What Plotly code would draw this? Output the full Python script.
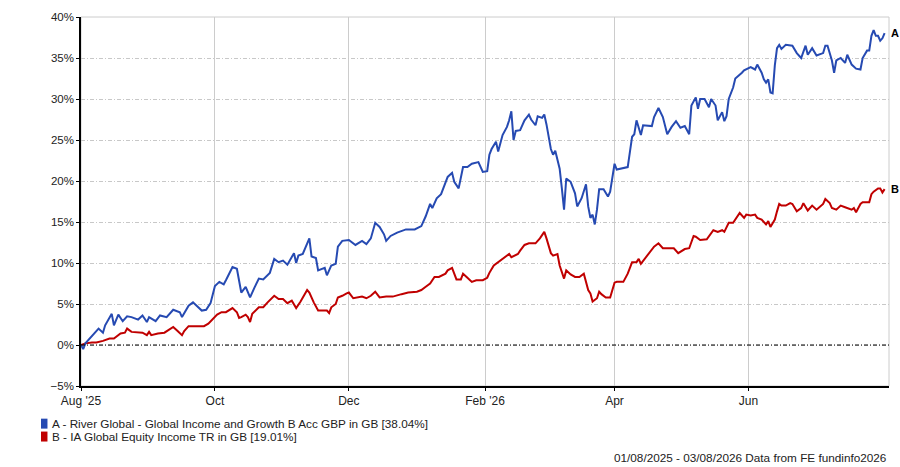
import pandas as pd
import plotly.graph_objects as go

# dias desde el 01/08/2025 y rentabilidad acumulada (%)
dias_a = [0, 1, 2, 5, 8, 10, 11, 14, 15, 17, 19, 21, 23, 26, 28, 30, 31, 34, 36, 39,
          42, 45, 46, 49, 51, 55, 57, 59, 61, 63, 65, 66, 69, 71, 73, 75, 77, 79, 81, 83,
          86, 88, 90, 92, 94, 97, 98, 99, 101, 104, 105, 107, 108, 111, 112, 114, 116, 117, 119, 122,
          125, 128, 130, 132, 134, 136, 138, 139, 141, 144, 148, 152, 155, 157, 159, 160, 162, 164, 167, 169,
          170, 172, 174, 176, 178, 181, 183, 185, 186, 187, 189, 190, 192, 194, 195, 196, 197, 198, 200, 202,
          204, 205, 207, 208, 210, 211, 212, 214, 215, 216, 218, 219, 220, 221, 223, 225, 226, 228, 230, 231,
          232, 233, 234, 235, 236, 238, 240, 241, 243, 244, 249, 251, 252, 253, 255, 256, 260, 261, 263, 265,
          267, 269, 271, 273, 275, 277, 278, 280, 281, 282, 284, 286, 287, 289, 290, 292, 293, 294, 295, 297,
          298, 301, 302, 305, 307, 308, 310, 311, 312, 313, 314, 315, 316, 317, 318, 319, 321, 324, 326, 328,
          330, 331, 333, 335, 338, 339, 340, 342, 343, 344, 346, 348, 349, 351, 353, 355, 356, 358, 359, 360,
          361, 362, 363, 364, 365, 366]
valores_a = [0.0, -0.5, 0.2, 1.1, 2.0, 1.5, 2.4, 3.8, 2.4, 3.7, 2.9, 3.5, 3.4, 3.1, 3.6, 2.8, 3.4, 2.9, 3.6, 3.4,
             4.3, 4.0, 3.4, 4.8, 5.2, 4.2, 4.3, 5.1, 7.2, 7.7, 7.4, 7.9, 9.5, 9.3, 6.4, 7.1, 5.8, 7.0, 8.1, 8.0,
             8.8, 10.5, 10.1, 10.3, 9.8, 11.2, 10.0, 10.9, 11.1, 13.0, 10.8, 10.6, 9.1, 9.4, 8.5, 9.7, 9.9, 12.0, 12.7, 12.8,
             12.2, 12.7, 12.3, 13.0, 14.9, 14.4, 13.5, 12.7, 13.3, 13.7, 14.1, 14.1, 14.5, 15.7, 17.2, 16.7, 17.9, 18.4, 20.5, 21.0,
             19.9, 19.1, 21.7, 21.7, 22.1, 22.3, 21.1, 21.2, 23.2, 23.9, 24.8, 23.6, 25.6, 26.6, 27.4, 28.5, 25.0, 26.1, 26.2, 27.4,
             28.1, 27.5, 26.8, 27.9, 27.7, 28.1, 26.9, 23.9, 23.2, 23.7, 21.5, 19.1, 16.5, 20.3, 19.9, 18.5, 16.9, 17.9, 19.6, 16.9,
             15.5, 15.9, 14.7, 16.5, 19.0, 19.0, 18.1, 18.7, 22.1, 21.4, 21.7, 25.4, 25.7, 27.4, 25.6, 26.8, 26.7, 27.8, 28.9, 27.8,
             25.7, 26.6, 27.3, 26.5, 26.7, 25.7, 29.2, 30.2, 28.8, 30.0, 30.0, 29.0, 30.0, 29.2, 27.4, 28.4, 27.3, 27.9, 30.0, 31.4,
             32.5, 33.2, 33.5, 33.9, 33.6, 34.2, 33.2, 32.4, 32.0, 32.4, 30.8, 30.7, 34.1, 36.2, 36.6, 36.1, 36.6, 36.5, 35.6, 35.0,
             36.5, 35.4, 36.2, 35.3, 35.6, 36.5, 36.5, 34.7, 33.2, 34.7, 35.0, 34.4, 35.4, 34.2, 33.7, 33.6, 35.0, 35.9, 35.9, 37.7,
             38.4, 37.7, 37.7, 37.1, 37.4, 38.04]

dias_b = [0, 2, 5, 7, 10, 13, 15, 18, 20, 21, 23, 26, 28, 30, 31, 32, 35, 38, 40, 42,
          44, 46, 47, 49, 52, 56, 58, 60, 62, 64, 66, 69, 71, 72, 73, 75, 76, 77, 78, 81,
          83, 85, 88, 90, 92, 94, 96, 98, 100, 103, 104, 106, 108, 112, 113, 114, 116, 117, 119, 121,
          122, 124, 128, 130, 132, 134, 136, 139, 142, 146, 149, 153, 155, 157, 159, 161, 163, 166, 167, 169,
          170, 171, 173, 174, 176, 178, 180, 183, 185, 186, 188, 190, 193, 195, 196, 199, 200, 202, 204, 207,
          209, 210, 211, 212, 214, 215, 217, 218, 220, 221, 223, 225, 227, 229, 231, 232, 233, 235, 236, 237,
          239, 241, 243, 244, 247, 249, 251, 253, 254, 255, 257, 260, 261, 263, 265, 266, 270, 272, 274, 275,
          277, 279, 280, 282, 285, 286, 288, 290, 292, 293, 295, 297, 299, 300, 302, 303, 305, 307, 308, 310,
          312, 313, 314, 316, 317, 318, 319, 321, 323, 324, 326, 328, 329, 331, 333, 335, 338, 339, 341, 342,
          344, 346, 348, 351, 352, 353, 355, 356, 359, 360, 361, 363, 364, 365, 366]
valores_b = [0.0, 0.2, 0.3, 0.3, 0.5, 0.8, 0.8, 1.4, 1.5, 2.0, 1.6, 1.5, 1.5, 1.2, 1.6, 1.2, 1.4, 1.5, 1.8, 2.2,
             1.7, 1.2, 1.7, 2.3, 2.3, 2.3, 2.6, 3.1, 3.7, 4.0, 4.0, 4.5, 4.0, 3.3, 3.4, 3.7, 3.4, 2.8, 3.8, 4.6,
             4.6, 5.2, 6.0, 5.6, 5.6, 5.1, 5.4, 4.5, 5.3, 6.7, 6.4, 5.2, 4.2, 4.2, 3.9, 4.6, 5.0, 5.8, 6.0, 6.3,
             6.4, 5.7, 5.9, 5.7, 6.0, 6.5, 5.8, 5.9, 5.9, 6.2, 6.4, 6.5, 6.7, 7.1, 7.5, 8.3, 8.3, 8.7, 9.1, 9.4,
             8.7, 8.0, 8.0, 8.7, 8.2, 7.7, 7.9, 7.9, 8.2, 8.8, 9.7, 10.1, 10.7, 11.1, 10.7, 11.1, 11.5, 12.2, 12.4, 12.4,
             13.0, 13.4, 13.8, 13.0, 11.2, 10.9, 11.1, 9.7, 8.1, 9.1, 8.6, 8.3, 8.3, 8.7, 6.7, 6.3, 5.3, 5.7, 6.5, 6.2,
             5.8, 5.8, 7.6, 7.7, 7.7, 8.7, 10.1, 10.1, 10.5, 9.9, 10.6, 11.6, 12.0, 12.4, 11.8, 11.8, 11.8, 11.2, 11.5, 11.7,
             11.8, 13.3, 13.2, 12.8, 12.9, 13.3, 14.0, 13.8, 14.0, 13.8, 14.9, 14.9, 15.7, 16.1, 15.5, 15.9, 15.8, 15.9, 15.5, 15.3,
             14.7, 15.1, 14.4, 15.3, 16.3, 17.2, 17.0, 17.0, 17.3, 17.2, 16.3, 16.7, 17.3, 16.4, 17.0, 16.5, 17.2, 17.8, 17.3, 16.7,
             16.5, 17.0, 16.8, 16.5, 16.7, 16.2, 17.2, 17.4, 17.4, 18.4, 18.7, 19.1, 19.1, 18.6, 19.01]

nombre_a = 'A - River Global - Global Income and Growth B Acc GBP in GB [38.04%]'
nombre_b = 'B - IA Global Equity Income TR in GB [19.01%]'
ticks_x = ['2025-08-01', '2025-10-01', '2025-12-01', '2026-02-01', '2026-04-01', '2026-06-01']
etiquetas_x = ["Aug '25", 'Oct', 'Dec', "Feb '26", 'Apr', 'Jun']
pie = '01/08/2025 - 03/08/2026 Data from FE fundinfo2026'

inicio = pd.Timestamp('2025-08-01')
fechas_a = inicio + pd.to_timedelta(dias_a, unit='D')
fechas_b = inicio + pd.to_timedelta(dias_b, unit='D')

azul = 'rgb(38,74,178)'
rojo = 'rgb(192,0,0)'
fuente = 'Liberation Sans, Arial, sans-serif'
raya = '4px,2px,1px,2px'

fig = go.Figure()
fig.add_trace(go.Scatter(x=fechas_b, y=valores_b, mode='lines', name=nombre_b,
                         line=dict(color=rojo, width=2)))
fig.add_trace(go.Scatter(x=fechas_a, y=valores_a, mode='lines', name=nombre_a,
                         line=dict(color=azul, width=2)))

# marco gris arriba/derecha
fig.add_shape(type='rect', xref='paper', yref='paper', x0=0, x1=1, y0=0, y1=1,
              line=dict(color='#cccccc', width=1), layer='below')
# linea del 0%
fig.add_hline(y=0, line=dict(color='black', width=1, dash=raya))

# etiquetas A / B pegadas al borde derecho, a la altura del ultimo valor
fig.add_annotation(xref='paper', x=1.0, y=valores_a[-1], text='<b>A</b>', showarrow=False,
                   xanchor='left', xshift=0, font=dict(size=11, color='black', family=fuente))
fig.add_annotation(xref='paper', x=1.0, y=valores_b[-1], text='<b>B</b>', showarrow=False,
                   xanchor='left', xshift=0, font=dict(size=11, color='black', family=fuente))

# leyenda hecha a mano (cuadrados + texto)
for i, (nom, col) in enumerate([(nombre_a, azul), (nombre_b, rojo)]):
    yy = -0.102 - i * 0.035
    fig.add_shape(type='rect', xref='paper', yref='paper',
                  x0=-0.0495, x1=-0.0415, y0=yy - 0.0135, y1=yy + 0.0135,
                  fillcolor=col, line=dict(width=0))
    fig.add_annotation(xref='paper', yref='paper', x=-0.038, y=yy, text=nom,
                       showarrow=False, xanchor='left', yanchor='middle',
                       font=dict(size=11.75, color='#222222', family=fuente))

fig.add_annotation(xref='paper', yref='paper', x=1.0, y=-0.194, text=pie,
                   showarrow=False, xanchor='right', yanchor='middle',
                   font=dict(size=11.75, color='#222222', family=fuente))

fig.update_layout(
    width=900, height=467,
    margin=dict(l=81, r=11, t=14, b=81),
    plot_bgcolor='white', paper_bgcolor='white',
    showlegend=False,
    font=dict(family=fuente, size=11, color='#222222'),
    xaxis=dict(range=['2025-08-01', '2026-08-04'], tickvals=ticks_x, ticktext=etiquetas_x,
               tickfont=dict(size=12),
               showgrid=True, gridcolor='#cccccc', gridwidth=1,
               showline=True, linecolor='black', linewidth=1.5,
               ticks='outside', ticklen=3, tickcolor='black', zeroline=False),
    yaxis=dict(range=[-5, 40], dtick=5, ticksuffix='%', tickfont=dict(size=11.5),
               showgrid=True, gridcolor='#c8c8c8', griddash=raya, gridwidth=1,
               showline=True, linecolor='black', linewidth=1.5,
               ticks='outside', ticklen=3, tickcolor='black', zeroline=False),
)

# quitar el margen de 8px que pone el navegador en <body>
fig.write_html('out.html', config={'displayModeBar': False},
               post_script="document.body.style.margin='0';document.body.style.overflow='hidden';")
